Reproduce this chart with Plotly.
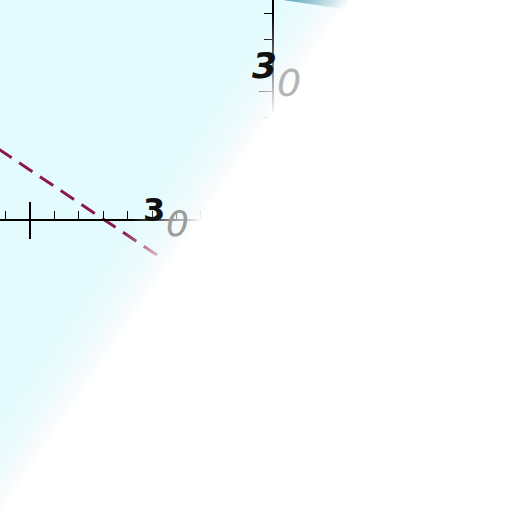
import plotly.graph_objects as go

# axis values
x_range = [23.77, 44.75]
y_range = [8.846, 28.538]
x_major = [25]
y_major = [25]
minor_step = 1
tick_text = ['30', '30']
# where the two digits of each label sit (data units)
label_x = [[30.1, 31.05], [34.62, 35.62]]
label_y = [[20.45, 19.95], [26.0, 25.35]]
label_size = [[32, 36], [36, 38]]

# dashed series
dash_x = [22.0, 30.33]
dash_y = [23.88, 18.65]

# teal band at the top edge
band_x = [35.35, 38.52, 38.52, 35.35, 35.35]
band_y = [28.54, 28.10, 29.31, 29.31, 28.54]


def fade_shapes(n=20, c0=283, width=70, slope=0.68):
    # white wedge that fades the lower right part of the chart
    shapes = []
    for k in range(1, n + 1):
        c = c0 + width * (k - 1) / n
        pts = [(c + slope * 20, -20), (c - slope * 532, 532), (600, 532), (600, -20)]
        path = 'M ' + ' L '.join('{:.4f},{:.4f}'.format(px / 512, 1 - py / 512) for px, py in pts) + ' Z'
        shapes.append(dict(type='path', path=path, xref='paper', yref='paper',
                           fillcolor='white', line=dict(width=0),
                           opacity=1 / (n - k + 1), layer='above'))
    return shapes


def main():
    fig = go.Figure()
    fig.add_trace(go.Scatter(
        x=band_x, y=band_y, mode='lines', fill='toself',
        fillcolor='#4fa3bb', line=dict(width=0), hoverinfo='skip'))
    fig.add_trace(go.Scatter(
        x=dash_x, y=dash_y, mode='lines',
        line=dict(color='#8b1a4b', width=3, dash='16px,9px')))
    fig.add_trace(go.Scatter(x=[None], y=[None], xaxis='x2', hoverinfo='skip'))

    ann = []
    for i, t in enumerate(tick_text):
        first = '<b>' + t[0] + '</b>'
        if i == 1:
            first = '<i>' + first + '</i>'
        ann.append(dict(x=label_x[i][0], y=label_y[i][0], xref='x', yref='y', text=first,
                        showarrow=False, borderpad=0,
                        font=dict(family='DejaVu Sans', size=label_size[i][0], color='#111111')))
        ann.append(dict(x=label_x[i][1], y=label_y[i][1], xref='x', yref='y',
                        text='<i>' + t[1:] + '</i>', showarrow=False, borderpad=0,
                        font=dict(family='DejaVu Sans', size=label_size[i][1],
                                  color='#9c9c9c' if i == 0 else '#b4b4b4')))

    fig.update_layout(
        width=512, height=512,
        margin=dict(l=0, r=0, t=0, b=0),
        paper_bgcolor='white',
        plot_bgcolor='#e3fbfd',
        showlegend=False,
        xaxis=dict(range=x_range, anchor='free', position=1 - 220 / 512, domain=[0, 1],
                   showgrid=False, zeroline=False, showticklabels=False,
                   showline=True, linecolor='black', linewidth=1.5,
                   tickmode='array', tickvals=x_major, ticks='inside', ticklen=17,
                   tickwidth=2, tickcolor='black',
                   minor=dict(tickmode='linear', tick0=x_major[0], dtick=minor_step,
                              ticks='inside', ticklen=8, tickwidth=1.3, tickcolor='black')),
        xaxis2=dict(range=x_range, overlaying='x', anchor='free', position=1 - 220 / 512,
                    showgrid=False, zeroline=False, showticklabels=False, showline=False,
                    tickmode='array', tickvals=x_major, ticks='outside', ticklen=18,
                    tickwidth=2, tickcolor='black'),
        yaxis=dict(range=y_range, anchor='free', position=273 / 512, domain=[0, 1],
                   showgrid=False, zeroline=False, showticklabels=False,
                   showline=True, linecolor='black', linewidth=1.5,
                   tickmode='array', tickvals=y_major, ticks='outside', ticklen=13,
                   tickwidth=1.3, tickcolor='black',
                   minor=dict(tickmode='linear', tick0=y_major[0], dtick=minor_step,
                              ticks='outside', ticklen=8, tickwidth=1.3, tickcolor='black')),
        annotations=ann,
        shapes=fade_shapes(),
    )
    fig.write_html('out.html', config={'displayModeBar': False},
                   post_script="document.body.style.margin='0';")


if __name__ == '__main__':
    main()
